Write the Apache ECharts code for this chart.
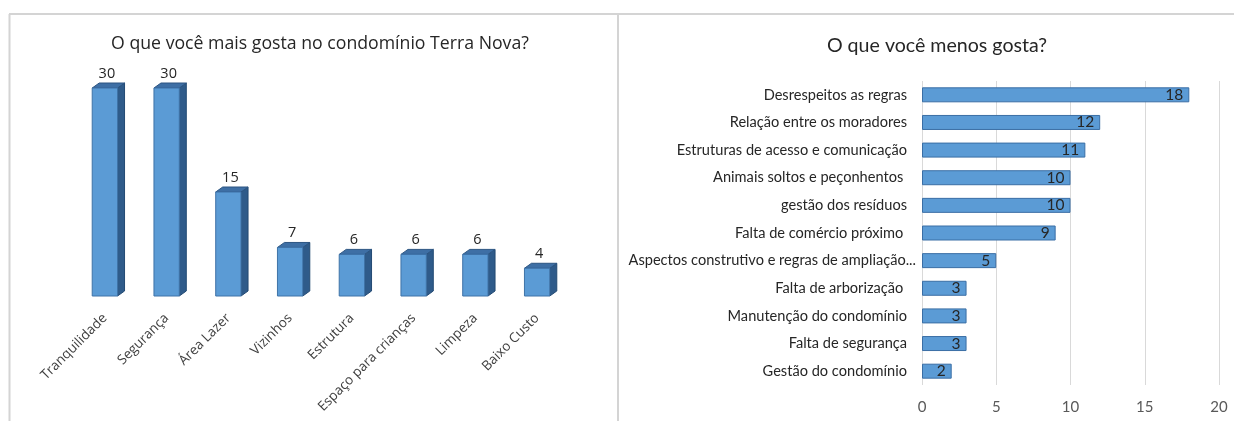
<!DOCTYPE html>
<html>
<head>
<meta charset="utf-8">
<script src="https://cdn.jsdelivr.net/npm/echarts@6/dist/echarts.min.js"></script>
<style>
  html, body { margin: 0; padding: 0; background: #fff; }
  #chart { width: 1234px; height: 421px; }
</style>
</head>
<body>
<div id="chart"></div>
<script>
// left chart: O que você mais gosta
const maisTitle = 'O que você mais gosta no condomínio Terra Nova?'
const maisCategories = ['Tranquilidade', 'Segurança', 'Área Lazer', 'Vizinhos', 'Estrutura', 'Espaço para crianças', 'Limpeza', 'Baixo Custo']
const maisValues = [30, 30, 15, 7, 6, 6, 6, 4]

// right chart: O que você menos gosta
const menosTitle = 'O que você menos gosta?'
const menosCategories = [
  'Desrespeitos as regras',
  'Relação entre os moradores',
  'Estruturas de acesso e comunicação',
  'Animais soltos e peçonhentos ',
  'gestão dos resíduos',
  'Falta de comércio próximo ',
  'Aspectos construtivo e regras de ampliação...',
  'Falta de arborização ',
  'Manutenção do condomínio',
  'Falta de segurança',
  'Gestão do condomínio',
]
const menosValues = [18, 12, 11, 10, 10, 9, 5, 3, 3, 3, 2]
const menosTicks = [0, 5, 10, 15, 20]

const FRONT = '#5b9bd5'
const SIDE = '#2f5b8a'
const TOP = '#3e6fa5'
const EDGE = '#2c5582'
const BORDER = '#d4d4d4'
const LEFT_FONT = "'Open Sans', sans-serif"
const RIGHT_FONT = "Lato, sans-serif"

// fake 3D column: front face + side + top
function renderColumn(params, api) {
  const top = api.coord([api.value(0), api.value(1)])
  const base = api.coord([api.value(0), 0])
  const w = api.size([1, 0])[0] * 0.41
  const dx = 7, dy = 5
  const x0 = top[0] - w / 2
  const x1 = top[0] + w / 2
  return {
    type: 'group',
    children: [
      {
        type: 'polygon',
        shape: { points: [[x1, top[1]], [x1 + dx, top[1] - dy], [x1 + dx, base[1] - dy], [x1, base[1]]] },
        style: { fill: SIDE, stroke: '#234a73', lineWidth: 1 },
      },
      {
        type: 'polygon',
        shape: { points: [[x0, top[1]], [x0 + dx, top[1] - dy], [x1 + dx, top[1] - dy], [x1, top[1]]] },
        style: { fill: TOP, stroke: EDGE, lineWidth: 1 },
      },
      {
        type: 'rect',
        shape: { x: x0, y: top[1], width: w, height: base[1] - top[1] },
        style: { fill: FRONT, stroke: '#3f73a8', lineWidth: 1 },
      },
      {
        type: 'text',
        style: {
          text: String(api.value(1)),
          x: top[0] + 2,
          y: top[1] - dy - 2,
          align: 'center',
          verticalAlign: 'bottom',
          fontFamily: LEFT_FONT,
          fontSize: 14.5,
          fill: '#262626',
        },
      },
    ],
  }
}

const chart = echarts.init(document.getElementById('chart'), null, { renderer: 'canvas' })

chart.setOption({
  animation: false,
  backgroundColor: '#fff',
  title: [
    {
      text: maisTitle,
      left: 315,
      top: 30,
      textAlign: 'center',
      textStyle: { fontFamily: LEFT_FONT, fontSize: 17.7, fontWeight: 'normal', color: '#262626' },
    },
    {
      text: menosTitle,
      left: 932,
      top: 31,
      textAlign: 'center',
      textStyle: { fontFamily: RIGHT_FONT, fontSize: 19.6, fontWeight: 'normal', color: '#262626' },
    },
  ],
  graphic: [
    { type: 'line', shape: { x1: 9, y1: 14, x2: 1234, y2: 14 }, style: { stroke: BORDER, lineWidth: 2 } },
    { type: 'line', shape: { x1: 9.5, y1: 14, x2: 9.5, y2: 421 }, style: { stroke: BORDER, lineWidth: 2 } },
    { type: 'line', shape: { x1: 618, y1: 14, x2: 618, y2: 421 }, style: { stroke: BORDER, lineWidth: 2 } },
  ],
  grid: [
    { left: 74, width: 494, top: 88, bottom: 125 },
    { left: 922, right: 15, top: 81, bottom: 36 },
  ],
  xAxis: [
    {
      gridIndex: 0,
      type: 'category',
      data: maisCategories,
      axisLine: { show: false },
      axisTick: { show: false },
      axisLabel: {
        rotate: 45,
        margin: 20,
        interval: 0,
        fontFamily: LEFT_FONT,
        fontSize: 13.5,
        color: '#404040',
      },
    },
    {
      gridIndex: 1,
      type: 'value',
      min: 0,
      max: 20,
      interval: 5,
      axisLine: { show: false },
      axisTick: { show: false },
      splitLine: { lineStyle: { color: '#d9d9d9', width: 1 } },
      axisLabel: {
        margin: 15,
        fontFamily: RIGHT_FONT,
        fontSize: 15,
        color: '#595959',
        formatter: v => (menosTicks.includes(v) ? String(v) : ''),
      },
    },
  ],
  yAxis: [
    { gridIndex: 0, type: 'value', min: 0, max: 30, show: false },
    {
      gridIndex: 1,
      type: 'category',
      inverse: true,
      data: menosCategories,
      axisLine: { show: false },
      axisTick: { show: false },
      axisLabel: {
        margin: 6,
        interval: 0,
        fontFamily: RIGHT_FONT,
        fontSize: 14.6,
        color: '#262626',
        formatter: (v, i) => (i === 6 ? '{w|' + v + '}' : '{n|' + v + '}'),
        rich: {
          n: { fontFamily: RIGHT_FONT, fontSize: 14.6, color: '#262626', padding: [0, 9, 0, 0] },
          w: { fontFamily: RIGHT_FONT, fontSize: 14.6, color: '#262626' },
        },
      },
    },
  ],
  series: [
    {
      type: 'custom',
      xAxisIndex: 0,
      yAxisIndex: 0,
      renderItem: renderColumn,
      data: maisValues.map((v, i) => [i, v]),
    },
    {
      type: 'bar',
      xAxisIndex: 1,
      yAxisIndex: 1,
      data: menosValues,
      barWidth: 15,
      itemStyle: { color: FRONT, borderColor: '#3a6ea5', borderWidth: 1 },
      label: {
        show: true,
        position: 'insideRight',
        distance: 6,
        fontFamily: RIGHT_FONT,
        fontSize: 15.5,
        color: '#262626',
      },
    },
  ],
})
</script>
</body>
</html>
